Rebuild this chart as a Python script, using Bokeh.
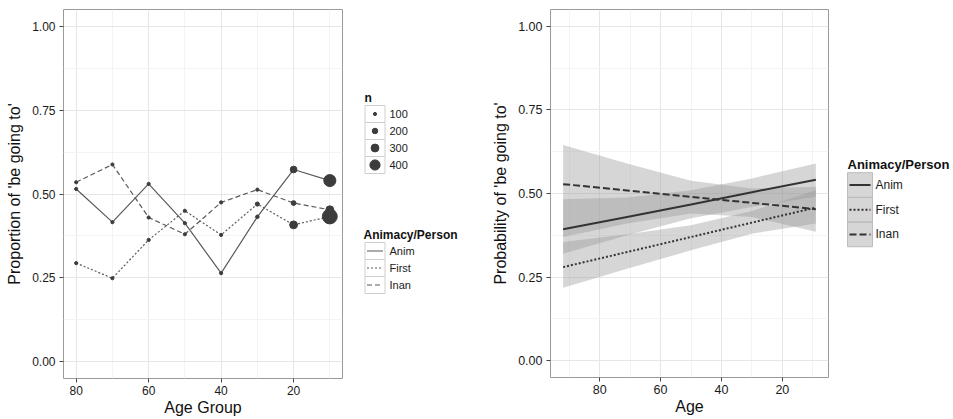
import numpy as np
from bokeh.plotting import figure
from bokeh.layouts import row
from bokeh.models import Range1d, FixedTicker, PrintfTickFormatter
from bokeh.embed import file_html
from bokeh.resources import INLINE
from bokeh.core.properties import value

FONT = "Liberation Sans"

# ---------------- data: left panel (observed proportions) ----------------
age_groups = [80, 70, 60, 50, 40, 30, 20, 10]
anim_prop = [0.515, 0.416, 0.530, 0.413, 0.264, 0.432, 0.573, 0.540]
first_prop = [0.294, 0.249, 0.363, 0.450, 0.378, 0.470, 0.408, 0.433]
inan_prop = [0.535, 0.588, 0.430, 0.380, 0.475, 0.513, 0.473, 0.453]
anim_n = [90, 85, 95, 85, 80, 115, 250, 480]
first_n = [95, 90, 90, 100, 90, 140, 300, 600]
inan_n = [90, 85, 85, 90, 95, 100, 170, 300]
size_breaks = [100, 200, 300, 400]
groups = ["Anim", "First", "Inan"]

# ---------------- data: right panel (fitted probabilities) ----------------
fit_age = [92, 71, 50, 30, 9]
anim_fit = [0.393, 0.430, 0.467, 0.504, 0.541]
anim_lo = [0.320, 0.375, 0.426, 0.460, 0.490]
anim_hi = [0.483, 0.488, 0.510, 0.545, 0.590]
first_fit = [0.280, 0.325, 0.370, 0.413, 0.458]
first_lo = [0.218, 0.275, 0.330, 0.380, 0.410]
first_hi = [0.355, 0.378, 0.405, 0.448, 0.510]
inan_fit = [0.528, 0.509, 0.490, 0.472, 0.453]
inan_lo = [0.370, 0.410, 0.440, 0.430, 0.386]
inan_hi = [0.645, 0.590, 0.538, 0.515, 0.520]

y_ticks = [0, 0.25, 0.5, 0.75, 1.0]
y_minor = [0.125, 0.375, 0.625, 0.875]

DASH = {"Anim": "solid", "First": "2 2", "Inan": "5 3"}
DASH_R = {"Anim": "solid", "First": "2 2", "Inan": "7 3"}


def npx(n):
    return max(3.2, 3.2 + (n - 100) * 7.0 / 300.0)


def style(p, xticks, xminor, tick_size):
    p.xaxis.ticker = FixedTicker(ticks=xticks, minor_ticks=xminor)
    p.yaxis.ticker = FixedTicker(ticks=y_ticks, minor_ticks=y_minor)
    p.yaxis.formatter = PrintfTickFormatter(format="%.2f")
    p.xgrid.grid_line_color = "#e6e6e6"
    p.ygrid.grid_line_color = "#e6e6e6"
    p.xgrid.minor_grid_line_color = "#f3f3f3"
    p.ygrid.minor_grid_line_color = "#f3f3f3"
    p.outline_line_color = "#9a9a9a"
    p.outline_line_width = 1
    for ax in (p.xaxis, p.yaxis):
        ax.axis_line_color = None
        ax.major_tick_line_color = "#444444"
        ax.major_tick_in = 0
        ax.major_tick_out = 4
        ax.minor_tick_line_color = None
        ax.major_label_text_font = FONT
        ax.major_label_text_font_size = tick_size
        ax.major_label_text_color = "#1a1a1a"
        ax.axis_label_text_font = FONT
        ax.axis_label_text_font_size = "16px"
        ax.axis_label_text_font_style = "normal"
        ax.axis_label_text_color = "#111111"
    p.xaxis.major_label_standoff = 3
    p.xaxis.axis_label_standoff = 1
    p.yaxis.major_label_standoff = 4
    p.yaxis.axis_label_standoff = 6


def legend_fig(x0, w):
    f = figure(frame_width=w, frame_height=419,
               min_border_left=0, min_border_right=0, min_border_top=0, min_border_bottom=0,
               x_range=Range1d(x0, x0 + w), y_range=Range1d(419, 0),
               toolbar_location=None, output_backend="svg",
               x_axis_location=None, y_axis_location=None, outline_line_color=None)
    f.grid.visible = False
    return f


# ---------------- left main plot ----------------
p1 = figure(frame_width=279, frame_height=369, min_border_left=63, min_border_right=15,
            min_border_top=9, min_border_bottom=41,
            x_range=Range1d(83.5, 6.5), y_range=Range1d(-0.05, 1.05),
            toolbar_location=None, output_backend="svg",
            x_axis_label="Age Group", y_axis_label="Proportion of 'be going to'")
style(p1, [20, 40, 60, 80], [10, 30, 50, 70], "12px")

props = {"Anim": anim_prop, "First": first_prop, "Inan": inan_prop}
ns = {"Anim": anim_n, "First": first_n, "Inan": inan_n}
for g in groups:
    p1.line(age_groups, props[g], line_color="#5a5a5a", line_width=1.2, line_dash=DASH[g])
for g in groups:
    p1.scatter(age_groups, props[g], size=[npx(n) for n in ns[g]],
               fill_color="#3c3c3c", line_color="#3c3c3c")

# ---------------- left legend ----------------
lg1 = legend_fig(357, 123)
kx, kw, kh = 374.5, 20, 17
lg1.text(x=[364], y=[88], text=["n"], text_font=value(FONT), text_font_style="bold",
         text_font_size=value("12px"), text_baseline="middle", text_color="#111111")
ys = [104.5 + kh * i for i in range(len(size_breaks))]
lg1.rect(x=[kx] * len(ys), y=ys, width=kw, height=kh, fill_color="white", line_color="#cfcfcf")
lg1.scatter(x=[kx] * len(ys), y=ys, size=[npx(n) for n in size_breaks],
            fill_color="#3c3c3c", line_color="#3c3c3c")
lg1.text(x=[389] * len(ys), y=ys, text=[str(b) for b in size_breaks], text_font=value(FONT),
         text_font_size=value("11px"), text_baseline="middle", text_color="#222222")

lg1.text(x=[363], y=[225], text=["Animacy/Person"], text_font=value(FONT), text_font_style="bold",
         text_font_size=value("12px"), text_baseline="middle", text_color="#111111")
ys2 = [241.5 + kh * i for i in range(len(groups))]
lg1.rect(x=[kx] * 3, y=ys2, width=kw, height=kh, fill_color="white", line_color="#cfcfcf")
for g, yy in zip(groups, ys2):
    lg1.line([kx - 8, kx + 8], [yy, yy], line_color="#5a5a5a", line_width=1.2, line_dash=DASH[g])
lg1.text(x=[389] * 3, y=ys2, text=groups, text_font=value(FONT),
         text_font_size=value("11px"), text_baseline="middle", text_color="#222222")

# ---------------- right main plot ----------------
p2 = figure(frame_width=278, frame_height=368, min_border_left=70, min_border_right=12,
            min_border_top=9, min_border_bottom=42,
            x_range=Range1d(96.15, 4.85), y_range=Range1d(-0.05, 1.05),
            toolbar_location=None, output_backend="svg",
            x_axis_label="Age", y_axis_label="Probability of 'be going to'")
style(p2, [20, 40, 60, 80], [10, 30, 50, 70, 90], "12.5px")

fits = {"Anim": (anim_fit, anim_lo, anim_hi),
        "First": (first_fit, first_lo, first_hi),
        "Inan": (inan_fit, inan_lo, inan_hi)}
for g in groups:
    f, lo, hi = fits[g]
    p2.varea(x=fit_age, y1=lo, y2=hi, fill_color="#999999", fill_alpha=0.4)
for g in groups:
    f, lo, hi = fits[g]
    p2.line(fit_age, f, line_color="#333333", line_width=2, line_dash=DASH_R[g])

# ---------------- right legend ----------------
lg2 = legend_fig(840, 113)
rkx, rkw, rkh = 859.5, 25, 24.7
lg2.text(x=[847], y=[155], text=["Animacy/Person"], text_font=value(FONT), text_font_style="bold",
         text_font_size=value("13px"), text_baseline="middle", text_color="#111111")
ys3 = [175.5 + rkh * i for i in range(len(groups))]
lg2.rect(x=[rkx] * 3, y=ys3, width=rkw, height=rkh, fill_color="#999999", fill_alpha=0.4,
         line_color="#bdbdbd")
for g, yy in zip(groups, ys3):
    lg2.line([rkx - 10.5, rkx + 10.5], [yy, yy], line_color="#333333", line_width=2,
             line_dash=DASH_R[g])
lg2.text(x=[875] * 3, y=ys3, text=groups, text_font=value(FONT),
         text_font_size=value("12px"), text_baseline="middle", text_color="#222222")

layout = row(p1, lg1, p2, lg2)
open("out.html", "w").write(file_html(layout, INLINE))
